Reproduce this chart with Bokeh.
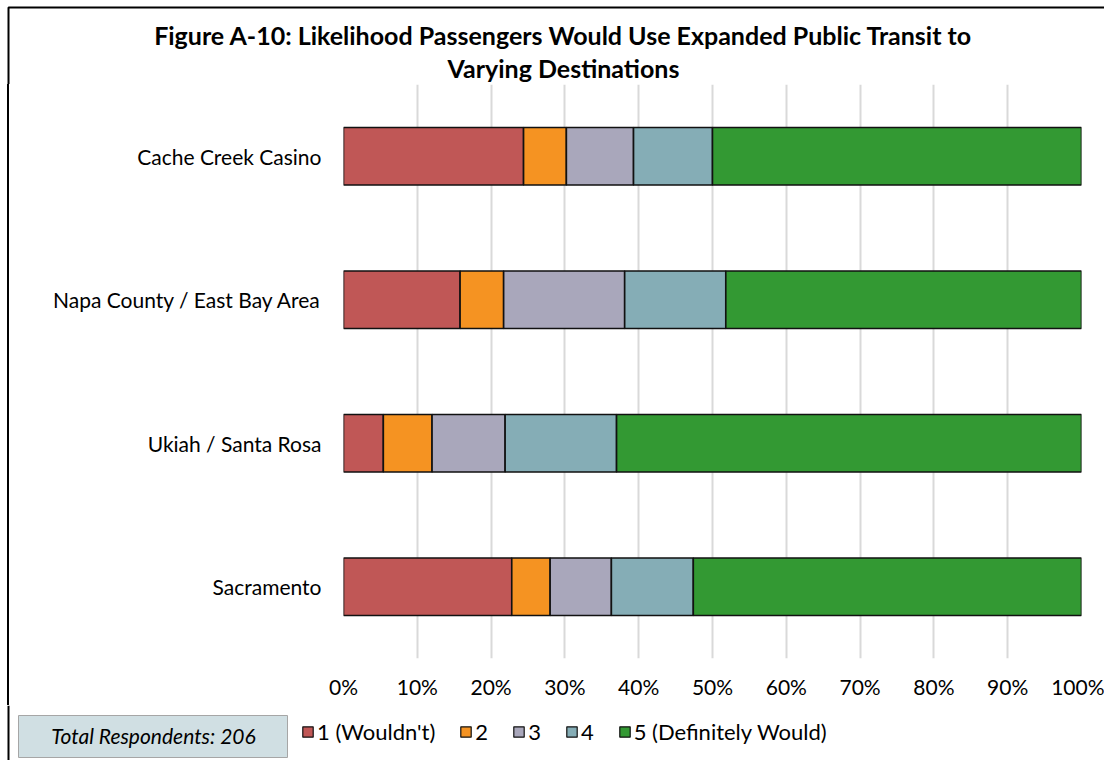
from bokeh.plotting import figure
from bokeh.layouts import column, row
from bokeh.models import (ColumnDataSource, Legend, LegendItem, Label, BoxAnnotation, Span, Div,
                          FactorRange, Range1d, NumeralTickFormatter)
from bokeh.embed import file_html
from bokeh.resources import INLINE

categories = ["Cache Creek Casino", "Napa County / East Bay Area", "Ukiah / Santa Rosa", "Sacramento"]
s1 = [24.4, 15.8, 5.4, 22.8]
s2 = [5.8, 5.9, 6.6, 5.2]
s3 = [9.1, 16.4, 9.9, 8.3]
s4 = [10.7, 13.7, 15.1, 11.1]
s5 = [50.0, 48.2, 63.0, 52.6]
series_names = ["1 (Wouldn't)", "2", "3", "4", "5 (Definitely Would)"]
colors = ["#C05756", "#F59322", "#A9A7BB", "#85ADB6", "#339933"]
ticks = [0, 10, 20, 30, 40, 50, 60, 70, 80, 90, 100]
title_lines = ["Figure A-10: Likelihood Passengers Would Use Expanded Public Transit to", "Varying Destinations"]
note = "Total Respondents: 206"

FONT = "Lato"
FS = "21px"
W, H = 1104, 760
TOP_H, MID_H = 84, 621
BOT_H = H - TOP_H - MID_H
LEFT_W = 20


def blank(width, height, yr):
    f = figure(width=width, height=height, output_backend="svg", toolbar_location=None,
               x_range=Range1d(0, width), y_range=yr, min_border=0,
               x_axis_type=None, y_axis_type=None)
    f.outline_line_color = None
    f.grid.visible = False
    f.background_fill_color = "white"
    f.border_fill_color = "white"
    return f


# ---- top strip: title + page border
top = blank(W, TOP_H, Range1d(TOP_H, 0))
top.add_layout(BoxAnnotation(left=8, right=W + 50, top=7, bottom=TOP_H + 50,
                             fill_alpha=0, line_color="#000000", line_alpha=1, line_width=2))
for i, t in enumerate(title_lines):
    top.add_layout(Label(x=563, y=34 + 33 * i, text=t, text_align="center", text_baseline="middle",
                         text_font=FONT, text_font_style="bold", text_font_size="25px",
                         text_color="#000000"))

# ---- left strip: page border
left = Div(text="", width=LEFT_W, height=MID_H, margin=0,
           styles={"background": "linear-gradient(to right, #ffffff 0px, #ffffff 7px, #000000 7px, "
                                 "#000000 9px, #ffffff 9px)"})

# ---- main chart
src = ColumnDataSource(dict(cat=categories, s1=[v / 100 for v in s1], s2=[v / 100 for v in s2],
                            s3=[v / 100 for v in s3], s4=[v / 100 for v in s4], s5=[v / 100 for v in s5]))
keys = ["s1", "s2", "s3", "s4", "s5"]
p = figure(width=W - LEFT_W, height=MID_H, output_backend="svg", toolbar_location=None,
           y_range=FactorRange(*categories[::-1], range_padding=0), x_range=Range1d(0, 1),
           min_border_left=343 - LEFT_W, min_border_right=23, min_border_top=0,
           min_border_bottom=MID_H - 574)
p.outline_line_color = None
p.background_fill_color = "white"
p.border_fill_color = "white"
p.hbar_stack(keys, y="cat", height=0.4, color=colors, line_color="#111111", line_width=1.6, source=src)

p.xaxis.ticker = [t / 100 for t in ticks]
p.xaxis.formatter = NumeralTickFormatter(format="0%")
p.xaxis.axis_line_color = None
p.xaxis.major_tick_line_color = None
p.xaxis.minor_tick_line_color = None
p.xaxis.major_label_standoff = 9
p.yaxis.axis_line_color = None
p.yaxis.major_tick_line_color = None
p.yaxis.major_label_standoff = 16
for ax in (p.xaxis, p.yaxis):
    ax.major_label_text_font = FONT
    ax.major_label_text_font_size = FS
    ax.major_label_text_color = "#000000"
p.ygrid.grid_line_color = None
p.xgrid.grid_line_color = "#D9D9D9"
p.xgrid.grid_line_width = 2

# ---- bottom strip: note box + legend
bot = blank(W, BOT_H, Range1d(BOT_H, 0))
bot.add_layout(Span(location=8, dimension="height", line_color="#000000", line_width=2))
bot.add_layout(BoxAnnotation(left=18, right=287, top=10, bottom=52, fill_color="#D0DFE3", fill_alpha=1,
                             line_color="#A6A6A6", line_alpha=1, line_width=1))
bot.add_layout(Label(x=153, y=30, text=note, text_align="center", text_baseline="middle",
                     text_font=FONT, text_font_style="italic", text_font_size=FS, text_color="#000000"))
items = []
for n, c in zip(series_names, colors):
    # one off-screen placeholder quad per series so the legend has a glyph to draw
    r = bot.quad(left=[-50], right=[-40], top=[-50], bottom=[-40], fill_color=c,
                 line_color="#111111", line_width=1.2)
    items.append(LegendItem(label=n, renderers=[r]))
legend = Legend(items=items, orientation="horizontal", location=(301, 15), padding=0, margin=0,
                spacing=24, label_standoff=3, glyph_width=13, glyph_height=13,
                label_width=0, label_height=13,
                label_text_font=FONT, label_text_font_size="22px", label_text_color="#000000",
                border_line_color=None, background_fill_alpha=0)
bot.add_layout(legend, "center")

layout = column(top, row(left, p, spacing=0), bot, spacing=0)
open("out.html", "w").write(file_html(layout, INLINE))
